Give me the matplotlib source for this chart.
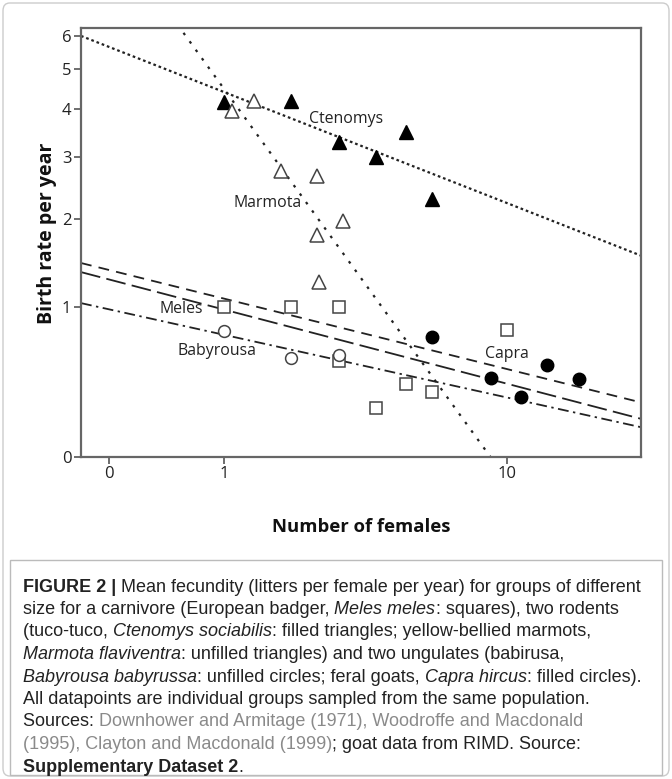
import numpy as np
import matplotlib
matplotlib.use("Agg")
from matplotlib import pyplot as plt
from matplotlib.patches import FancyBboxPatch

# data (x = number of females, y = births per female per year)
cteno_x = [1, 2, 3, 4, 5, 6]
cteno_y = [4.16, 4.18, 3.29, 2.99, 3.49, 2.30]
marmota_x = [1.10, 1.40, 1.82, 2.50, 2.50, 2.55, 3.09]
marmota_y = [3.95, 4.18, 2.75, 2.67, 1.79, 1.24, 1.97]
meles_x = [1, 2, 3, 3, 4, 5, 6, 10]
meles_y = [1.00, 1.00, 1.00, 0.56, 0.25, 0.40, 0.35, 0.80]
baby_x = [1, 2, 3]
baby_y = [0.79, 0.58, 0.60]
capra_x = [6, 9, 11, 13, 16]
capra_y = [0.74, 0.44, 0.32, 0.53, 0.43]

# fitted lines: log10(y+1) = a + b*log10(x+1)
fit_names = ["Ctenomys", "Marmota", "Capra", "Meles", "Babyrousa"]
fit_a = [0.823, 1.058, 0.375, 0.356, 0.296]
fit_b = [-0.301, -1.060, -0.191, -0.201, -0.170]

# where the species names sit (data coords)
label_x = [3.17, 1.60, 0.543, 0.914, 10.0]
label_y = [3.77, 2.23, 0.98, 0.633, 0.608]
label_names = ["Ctenomys", "Marmota", "Meles", "Babyrousa", "Capra"]

x_ticks = [0, 1, 10]
y_ticks = [0, 1, 2, 3, 4, 5, 6]

W, H = 672, 779
fig = plt.figure(figsize=(W / 100, H / 100), dpi=100)
ax = fig.add_axes([81 / W, 1 - 456.7 / H, 560 / W, 429 / H])


def fwd(v):
    return np.log10(np.maximum(np.asarray(v, dtype=float) + 1, 1e-6))


def inv(v):
    return 10 ** np.asarray(v, dtype=float) - 1


ax.set_xscale("function", functions=(fwd, inv))
ax.set_yscale("function", functions=(fwd, inv))
xmin, xmax = -0.155, 23.7
ax.set_xlim(xmin, xmax)
ax.set_ylim(0, 6.27)

# regression lines
styles = {
    "Ctenomys": dict(ls=(0, (1.2, 1.3)), lw=1.6),
    "Marmota": dict(ls=(0, (1.2, 3.5)), lw=1.6),
    "Capra": dict(ls=(0, (6, 4)), lw=1.3),
    "Meles": dict(ls=(0, (11, 3.5)), lw=1.3),
    "Babyrousa": dict(ls=(0, (6, 2.5, 1.3, 2.5)), lw=1.3),
}
xx = inv(np.linspace(fwd(xmin), fwd(xmax), 200))
for name, a, b in zip(fit_names, fit_a, fit_b):
    yy = inv(a + b * fwd(xx))
    ax.plot(xx, yy, color="#222222", **styles[name], zorder=2)

edge = "#444444"
ax.plot(cteno_x, cteno_y, "^", ms=10, color="black", zorder=3)
ax.plot(marmota_x, marmota_y, "^", ms=10, mfc="white", mec=edge, mew=1.1, zorder=3)
ax.plot(meles_x, meles_y, "s", ms=8, mfc="white", mec=edge, mew=1.1, zorder=3)
ax.plot(baby_x, baby_y, "o", ms=8.5, mfc="white", mec=edge, mew=1.1, zorder=3)
ax.plot(capra_x, capra_y, "o", ms=9, color="black", zorder=3)

# species labels
for lx, ly, name in zip(label_x, label_y, label_names):
    ax.text(lx, ly, name, fontsize=11.4, family="Open Sans", color="#222222",
            ha="center", va="center", zorder=4)

ax.set_xticks(x_ticks)
ax.set_xticklabels([str(t) for t in x_ticks])
ax.set_yticks(y_ticks)
ax.set_yticklabels([str(t) for t in y_ticks])
ax.minorticks_off()
ax.tick_params(axis="both", direction="out", length=5, width=1.2, color="#555555",
               labelsize=12, labelcolor="#222222", pad=2)
for lab in ax.get_xticklabels() + ax.get_yticklabels():
    lab.set_family("Open Sans")
for s in ax.spines.values():
    s.set_color("#666666")
    s.set_linewidth(1.6)

ax.set_xlabel("Number of females", fontsize=13.3, fontweight="bold", family="Open Sans",
              color="#111111")
ax.set_ylabel("Birth rate per year", fontsize=14, fontweight="bold", family="Open Sans",
              color="#111111")
ax.xaxis.set_label_coords(0.5, -(527 - 456.7) / 429, transform=ax.transAxes)
ax.yaxis.set_label_coords(-(81 - 46.7) / 560, (456.7 - 233) / 429, transform=ax.transAxes)
ax.xaxis.label.set_va("center")
ax.yaxis.label.set_va("center")

# outer border and caption box
fig.patches.append(FancyBboxPatch((3 / W, 3 / H), 666 / W, 773 / H, boxstyle="round,pad=0,rounding_size=0.01",
                                  transform=fig.transFigure, fill=False, ec="#cccccc", lw=1.0))
fig.patches.append(FancyBboxPatch((10 / W, 4 / H), 652 / W, 215 / H, boxstyle="square,pad=0",
                                  transform=fig.transFigure, fill=False, ec="#bbbbbb", lw=1.0))

N = dict(color="#222222")
I = dict(color="#222222", style="italic")
B = dict(color="#222222", weight="bold")
G = dict(color="#8a8a8a")
caption = [
    [("FIGURE 2 |", B), (" Mean fecundity (litters per female per year) for groups of different", N)],
    [("size for a carnivore (European badger, ", N), ("Meles meles", I), (": squares), two rodents", N)],
    [("(tuco-tuco, ", N), ("Ctenomys sociabilis", I), (": filled triangles; yellow-bellied marmots,", N)],
    [("Marmota flaviventra", I), (": unfilled triangles) and two ungulates (babirusa,", N)],
    [("Babyrousa babyrussa", I), (": unfilled circles; feral goats, ", N), ("Capra hircus", I),
     (": filled circles).", N)],
    [("All datapoints are individual groups sampled from the same population.", N)],
    [("Sources: ", N), ("Downhower and Armitage (1971), Woodroffe and Macdonald", G)],
    [("(1995), Clayton and Macdonald (1999)", G), ("; goat data from RIMD. Source:", N)],
    [("Supplementary Dataset 2", B), (".", N)],
]

renderer = fig.canvas.get_renderer()
y0, step = 587, 22.5
for i, runs in enumerate(caption):
    x = 23
    y = y0 + i * step
    for txt, st in runs:
        t = fig.text(x / W, 1 - y / H, txt, fontsize=13, family="Liberation Sans",
                     va="center", ha="left", **st)
        x += t.get_window_extent(renderer).width

fig.savefig("out.png", dpi=100)
